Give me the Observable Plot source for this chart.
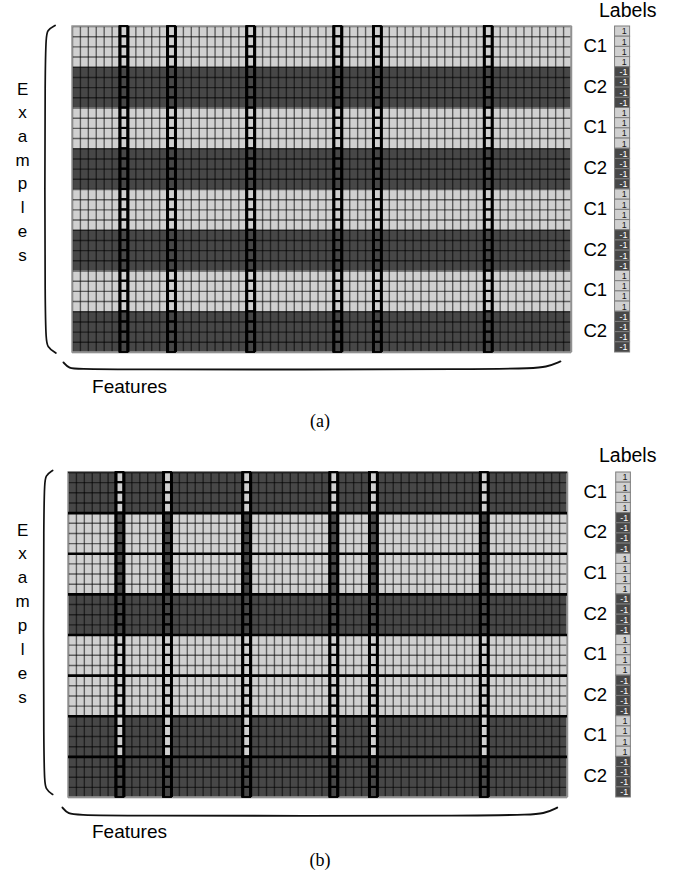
<!DOCTYPE html>
<html>
<head>
<meta charset="utf-8">
<script src="https://cdn.jsdelivr.net/npm/d3@7"></script>
<script src="https://cdn.jsdelivr.net/npm/@observablehq/plot@0.6"></script>
<style>
  body { margin: 0; background: #fff; }
  #fig { position: relative; width: 685px; height: 882px; overflow: hidden; }
  #fig > svg { position: absolute; left: 0; }
  .cap { position: absolute; left: 0; width: 640px; text-align: center;
         font-family: "Liberation Serif", "Times New Roman", serif; font-size: 18px; color: #000; }
</style>
</head>
<body>
<div id="fig"></div>
<script>
// ---------------- data ----------------
const nFeatures = 63;
const rowsPerGroup = 4;
const groupClass = ["C1", "C2", "C1", "C2", "C1", "C2", "C1", "C2"];
const groupLabel = [1, -1, 1, -1, 1, -1, 1, -1];
const selectedFeatures = [6, 12, 22, 33, 38, 52];
const shadeA = ["light", "dark", "light", "dark", "light", "dark", "light", "dark"];
const selectedShadeA = ["light", "dark", "light", "dark", "light", "dark", "light", "dark"];
const shadeB = ["dark", "light", "light", "dark", "light", "light", "dark", "dark"];
const selectedShadeB = ["light", "dark", "dark", "dark", "light", "light", "light", "dark"];
const examplesWord = "Examples";
const featuresWord = "Features";
const labelsWord = "Labels";
const captions = ["(a)", "(b)"];

// ---------------- layout ----------------
const nGroups = groupClass.length;
const nRows = nGroups * rowsPerGroup;
const FONT = "Liberation Sans, Arial, sans-serif";

function panel(cfg) {
  const groups = d3.range(nGroups).map(g => ({g, shade: cfg.shades[g], cls: groupClass[g]}));
  const rows = d3.range(nRows).map(r => {
    const g = Math.floor(r / rowsPerGroup);
    return {r, g, label: groupLabel[g], lshade: groupLabel[g] > 0 ? "light" : "dark"};
  });
  const selCells = rows.flatMap(row => selectedFeatures.map(f => ({f, r: row.r, shade: cfg.selShades[row.g]})));
  const letters = Array.from(examplesWord).map((ch, i) => ({ch, i}));
  const lc0 = cfg.labelCol[0], lc1 = cfg.labelCol[1];

  const marks = [
    Plot.rect(groups, {x1: () => 0, x2: () => nFeatures,
      y1: d => d.g * rowsPerGroup, y2: d => (d.g + 1) * rowsPerGroup, fill: "shade"}),
    Plot.rect(selCells, {x1: d => d.f, x2: d => d.f + 1, y1: d => d.r, y2: d => d.r + 1, fill: "shade"}),
    Plot.ruleX(d3.range(nFeatures + 1), {x: d => d, y1: () => 0, y2: () => nRows,
      stroke: "#000", strokeOpacity: 0.55, strokeWidth: 1.4}),
    Plot.ruleY(d3.range(nRows + 1), {y: d => d, x1: () => 0, x2: () => nFeatures,
      stroke: "#000", strokeOpacity: 0.55, strokeWidth: 1.4}),
    Plot.rect([0], {x1: () => 0, x2: () => nFeatures, y1: () => 0, y2: () => nRows,
      fill: "none", stroke: "#9c9c9c", strokeWidth: 1.5}),
  ];
  if (cfg.thickGroups) {
    marks.push(Plot.ruleY(d3.range(1, nGroups), {y: d => d * rowsPerGroup, x1: () => 0, x2: () => nFeatures,
      stroke: "#000", strokeWidth: 2.6}));
    marks.push(Plot.ruleY([0], {y: d => d, x1: () => 0, x2: () => nFeatures, stroke: "#222", strokeWidth: 1.6}));
  }
  marks.push(
    Plot.rect(selCells, {x1: d => d.f, x2: d => d.f + 1, y1: d => d.r, y2: d => d.r + 1,
      fill: "none", stroke: "#000", strokeWidth: 1.9}),
    Plot.ruleX(selectedFeatures.flatMap(f => [f, f + 1]), {x: d => d, y1: () => 0, y2: () => nRows,
      stroke: "#000", strokeWidth: 3}),
    Plot.rect(rows, {x1: () => lc0, x2: () => lc1, y1: d => d.r, y2: d => d.r + 1,
      fill: "lshade", stroke: "#7d7d7d", strokeWidth: 1}),
    Plot.text(rows.filter(d => d.label > 0), {x: () => (lc0 + lc1) / 2 + 0.2, y: d => d.r + 0.5,
      text: d => String(d.label), fill: "#1a1a1a", fontSize: 9, fontFamily: FONT}),
    Plot.text(rows.filter(d => d.label < 0), {x: () => (lc0 + lc1) / 2 + 0.1, y: d => d.r + 0.5,
      text: d => String(d.label), fill: "#ffffff", fontSize: 9, fontFamily: FONT}),
    Plot.text(groups, {x: () => cfg.classX, y: d => d.g * rowsPerGroup + 1.9, text: "cls",
      fontSize: 18.5, fontFamily: FONT, fill: "#000"}),
    Plot.text([labelsWord], {x: () => cfg.labelsPos[0], y: () => cfg.labelsPos[1], text: d => d,
      fontSize: 19.5, fontFamily: FONT, fill: "#000"}),
    Plot.text(letters, {x: () => cfg.exX, y: d => cfg.exY0 + d.i * cfg.exStep, text: "ch",
      fontSize: 17, fontFamily: FONT, fill: "#000"}),
    Plot.text([featuresWord], {x: () => cfg.featPos[0], y: () => cfg.featPos[1], text: d => d,
      fontSize: 19, fontFamily: FONT, fill: "#000"}),
    Plot.line(cfg.leftBrace, {x: d => d[0], y: d => d[1], curve: "basis",
      stroke: "#111", strokeWidth: 1.7}),
    Plot.line(cfg.bottomBrace, {x: d => d[0], y: d => d[1], curve: "basis",
      stroke: "#111", strokeWidth: 1.9})
  );

  return Plot.plot({
    width: 685,
    height: cfg.height,
    margin: 0,
    x: {type: "linear", domain: [0, nFeatures], range: cfg.xRange, axis: null},
    y: {type: "linear", domain: [0, nRows], range: cfg.yRange, axis: null},
    color: {type: "ordinal", domain: ["light", "dark"], range: ["#d0d0d0", "#474747"]},
    style: {background: "#fff", fontFamily: FONT, overflow: "visible"},
    marks
  });
}

const fig = document.getElementById("fig");

const svgA = panel({
  height: 405,
  xRange: [72, 571], yRange: [26, 352],
  shades: shadeA, selShades: selectedShadeA, thickGroups: false,
  labelCol: [68.5, 70.4],
  classX: 66.0, labelsPos: [70.1, -1.51],
  exX: -6.3, exY0: 6.14, exStep: 2.33,
  featPos: [7.2, 35.4],
  leftBrace: [[-2.2, -0.1], [-3.2, 0.3], [-3.5, 1.4], [-3.5, 30.4], [-3.2, 31.5], [-2.1, 32.05]],
  bottomBrace: [[-1.14, 32.97], [-0.5, 33.55], [1.0, 33.68], [57.0, 33.68], [60.0, 33.42], [61.6, 32.88]]
});
svgA.style.top = "0px";
fig.appendChild(svgA);

const capA = document.createElement("div");
capA.className = "cap";
capA.style.top = "405px"; capA.style.height = "32px"; capA.style.lineHeight = "32px";
capA.textContent = captions[0];
fig.appendChild(capA);

const svgB = panel({
  height: 405,
  xRange: [68, 567], yRange: [35, 360],
  shades: shadeB, selShades: selectedShadeB, thickGroups: true,
  labelCol: [69.15, 71.0],
  classX: 66.5, labelsPos: [70.6, -1.61],
  exX: -5.8, exY0: 5.67, exStep: 2.35,
  featPos: [7.7, 35.34],
  leftBrace: [[-2.0, -0.2], [-2.9, 0.25], [-3.16, 1.38], [-3.16, 30.1], [-2.9, 31.2], [-2.0, 31.7]],
  bottomBrace: [[-0.76, 32.99], [-0.1, 33.62], [1.5, 33.82], [57.1, 33.82], [60.2, 33.58], [61.7, 32.99]]
});
svgB.style.top = "437px";
fig.appendChild(svgB);

const capB = document.createElement("div");
capB.className = "cap";
capB.style.top = "842px"; capB.style.height = "36px"; capB.style.lineHeight = "36px";
capB.textContent = captions[1];
fig.appendChild(capB);
</script>
</body>
</html>
